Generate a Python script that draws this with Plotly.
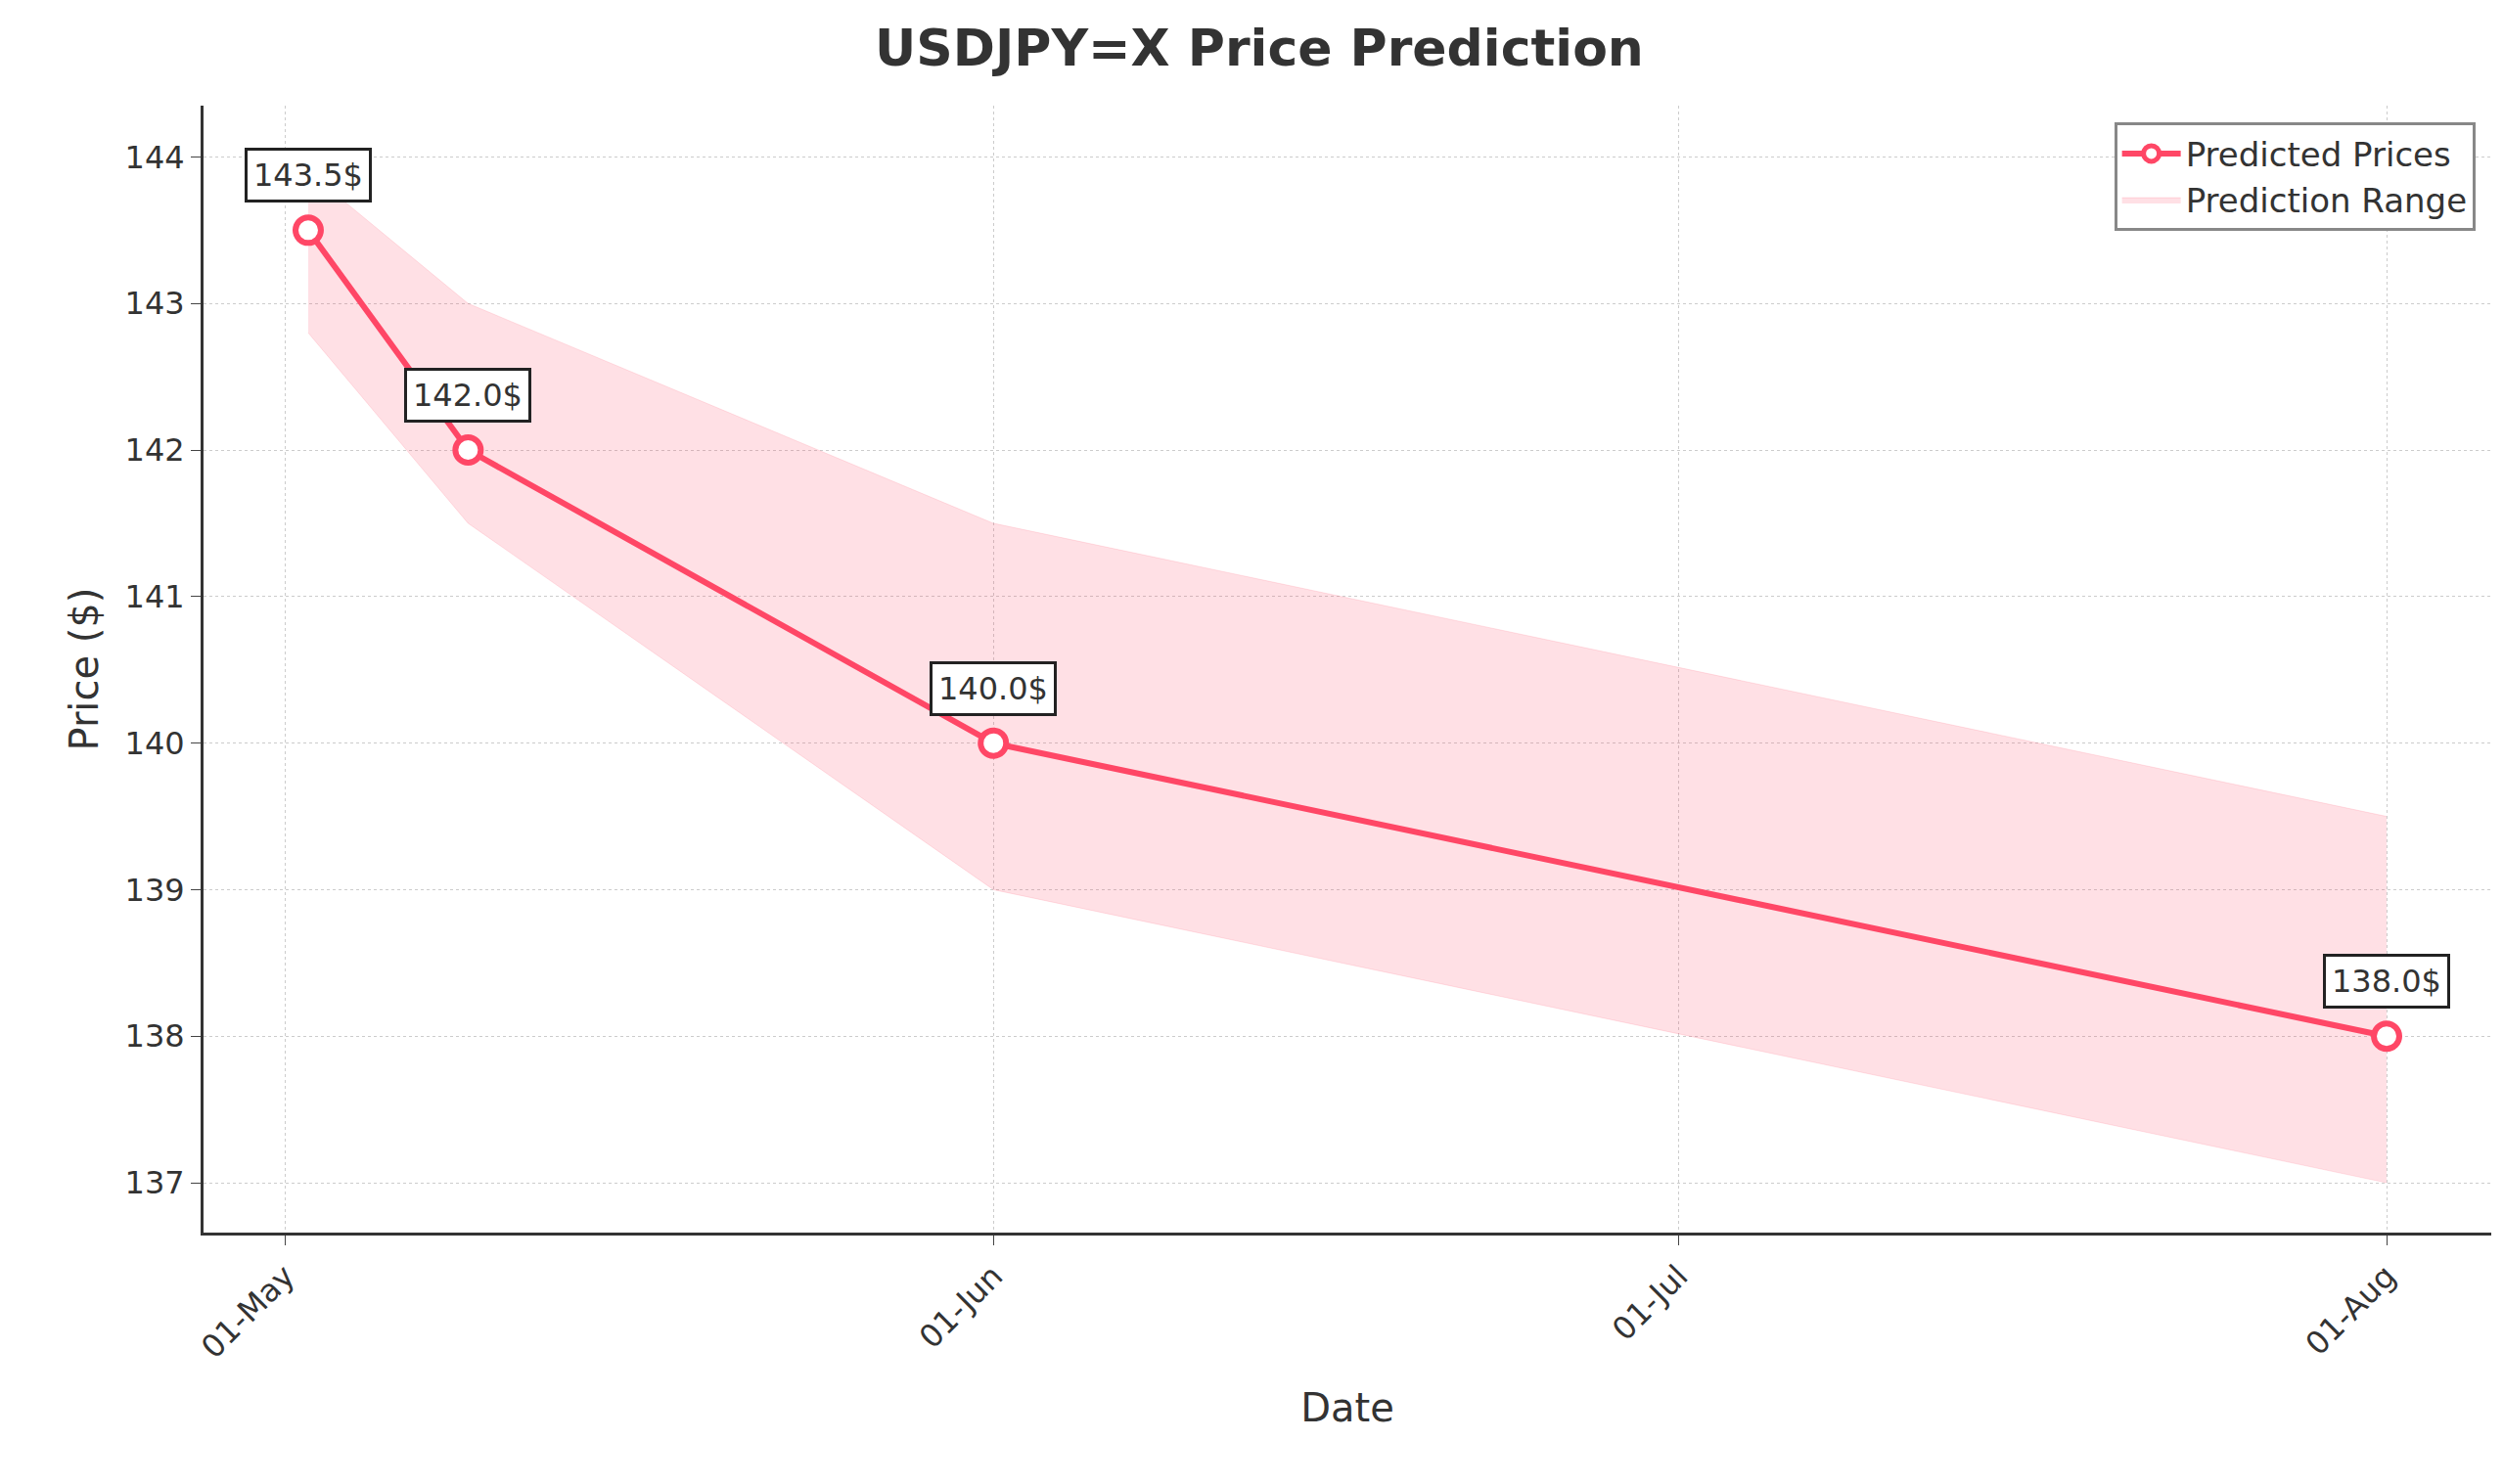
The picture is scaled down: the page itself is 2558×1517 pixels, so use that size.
import plotly.graph_objects as go

dates = ["2024-05-02", "2024-05-09", "2024-06-01", "2024-08-01"]
predicted = [143.5, 142.0, 140.0, 138.0]
lower = [142.8, 141.5, 139.0, 137.0]
upper = [143.9, 143.0, 141.5, 139.5]
tick_dates = ["2024-05-01", "2024-06-01", "2024-07-01", "2024-08-01"]
tick_labels = ["01-May", "01-Jun", "01-Jul", "01-Aug"]

red = "#ff4766"
fig = go.Figure()
fig.add_trace(go.Scatter(x=dates, y=upper, mode="lines", line=dict(width=1, color="rgba(255,71,102,0.15)"),
                         showlegend=False, hoverinfo="skip"))
fig.add_trace(go.Scatter(x=dates, y=lower, mode="lines", fill="tonexty", fillcolor="rgba(255,71,102,0.17)",
                         line=dict(width=1, color="rgba(255,71,102,0.15)"), name="Prediction Range"))
fig.add_trace(go.Scatter(x=dates, y=predicted, mode="lines+markers", name="Predicted Prices",
                         line=dict(color=red, width=6),
                         marker=dict(size=26, color="white", line=dict(color=red, width=6))))

for d, p in zip(dates, predicted):
    fig.add_annotation(x=d, y=p, text=f"{p:.1f}$", showarrow=False, yshift=56,
                       font=dict(size=32, color="#333"), bgcolor="white",
                       bordercolor="#222", borderwidth=3, borderpad=6)

fig.update_layout(
    width=2558, height=1517, plot_bgcolor="white", paper_bgcolor="white",
    font=dict(family="DejaVu Sans", color="#333", size=30),
    title=dict(text="<b>USDJPY=X Price Prediction</b>", x=0.5, xanchor="center", y=0.985,
               font=dict(size=52, color="#333")),
    margin=dict(l=200, r=20, t=100, b=265),
    legend=dict(x=0.993, y=0.985, xanchor="right", yanchor="top", bordercolor="#888", borderwidth=3,
                font=dict(size=34), traceorder="reversed", itemwidth=60),
    xaxis=dict(type="date", range=["2024-04-27 10:00", "2024-08-05 14:00"], tickvals=tick_dates,
               ticktext=tick_labels, tickangle=-45, tickfont=dict(size=32), showgrid=True,
               gridcolor="#ccc", griddash="dot", showline=True, linecolor="#333", linewidth=3,
               ticks="outside", ticklen=10, title=dict(text="Date", font=dict(size=40), standoff=30)),
    yaxis=dict(range=[136.66, 144.35], dtick=1, tickfont=dict(size=32), showgrid=True, gridcolor="#ccc",
               griddash="dot", showline=True, linecolor="#333", linewidth=3, ticks="outside", ticklen=10,
               zeroline=False, title=dict(text="Price ($)", font=dict(size=40))),
)
fig.write_html("out.html")
